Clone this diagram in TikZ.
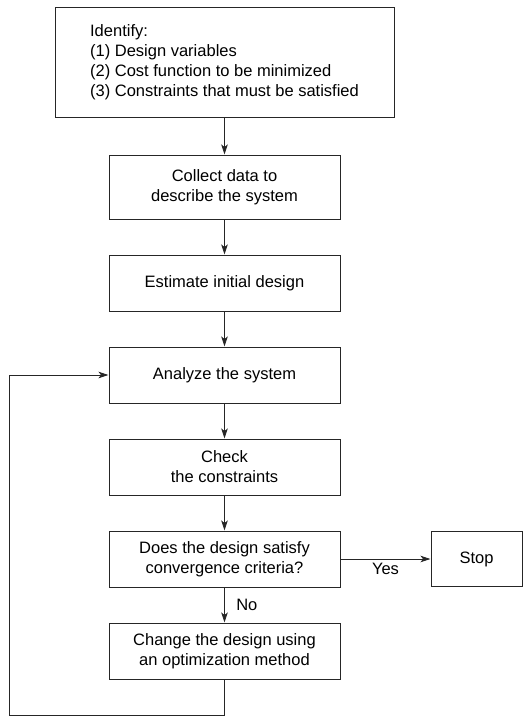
\documentclass[tikz,border=0pt]{standalone}
\usepackage{fontspec}
\setmainfont{Liberation Sans}
\usetikzlibrary{arrows.meta,positioning}
\tikzset{
  block/.style={draw=black!85, line width=1pt, align=center, minimum width=231pt, minimum height=56pt, inner sep=4pt, font=\fontsize{16.5}{20}\selectfont},
  idblock/.style={block, align=left, minimum width=339pt, minimum height=110pt},
  stopblock/.style={block, minimum width=91pt, minimum height=55pt},
  arrow/.style={-{Stealth[length=10pt, width=6.5pt, inset=2.5pt]}, line width=0.9pt, draw=black!85},
  lbl/.style={font=\fontsize{16.5}{20}\selectfont}
}

\begin{document}
\begin{tikzpicture}[node distance=35pt]
    \useasboundingbox (0,0) rectangle (525pt,-718pt);
    % Boxes
    \node[idblock] (ident) at (224.5pt,-62pt) {Identify:\\(1) Design variables\\(2) Cost function to be minimized\\(3) Constraints that must be satisfied};
    \node[block, minimum height=64pt, below=37pt of ident] (collect) {Collect data to\\describe the system};
    \node[block, below=of collect] (estimate) {Estimate initial design};
    \node[block, below=of estimate] (analyze) {Analyze the system};
    \node[block, below=of analyze] (check) {Check\\the constraints};
    \node[block, below=of check] (converge) {Does the design satisfy\\convergence criteria?};
    \node[block, below=of converge] (change) {Change the design using\\an optimization method};
    \node[stopblock, right=90pt of converge] (stop) {Stop};
    % Arrows
    \draw[arrow] (ident) -- (collect);
    \draw[arrow] (collect) -- (estimate);
    \draw[arrow] (estimate) -- (analyze);
    \draw[arrow] (analyze) -- (check);
    \draw[arrow] (check) -- (converge);
    \draw[arrow] (converge) -- node[lbl, midway, below] {Yes} (stop);
    \draw[arrow] (converge) -- node[lbl, midway, right=8pt] {No} (change);
    % Loop back
    \draw[arrow] (change.south) -- ++(0,-36pt) -| ([xshift=-99pt]analyze.west) -- (analyze.west);
\end{tikzpicture}
\end{document}
